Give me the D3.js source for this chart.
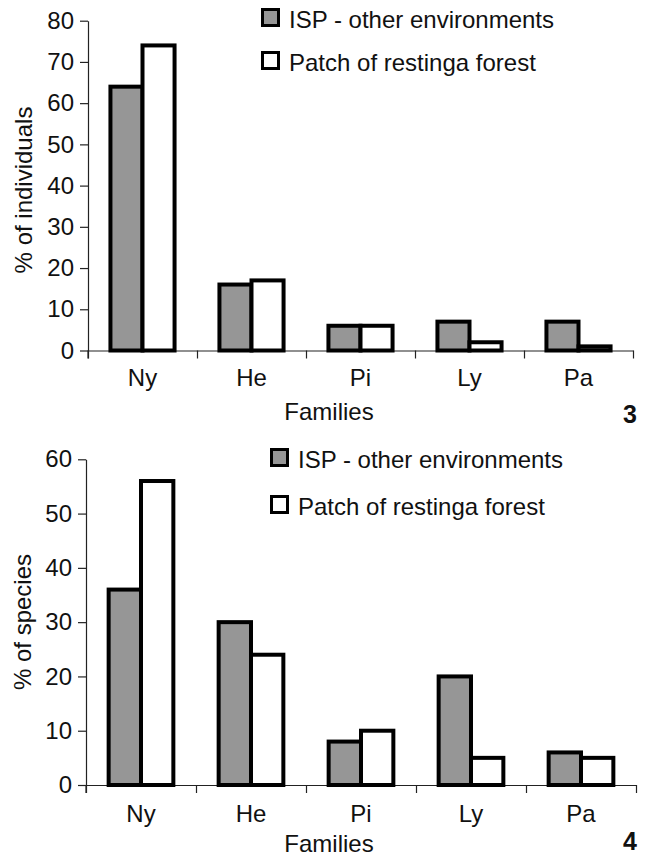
<!DOCTYPE html>
<html>
<head>
<meta charset="utf-8">
<script src="https://cdn.jsdelivr.net/npm/d3@7/dist/d3.min.js"></script>
<style>
  html, body { margin: 0; padding: 0; background: #fff; }
  svg { display: block; }
  text { font-family: "Liberation Sans", Arial, sans-serif; fill: #111; }
</style>
</head>
<body>
<svg id="chart" width="646" height="856"></svg>
<script>
// ---- data ----
const families = ["Ny", "He", "Pi", "Ly", "Pa"];
const seriesNames = ["ISP - other environments", "Patch of restinga forest"];
const individualsISP = [64, 16, 6, 7, 7];
const individualsPatch = [74, 17, 6, 2, 1];
const speciesISP = [36, 30, 8, 20, 6];
const speciesPatch = [56, 24, 10, 5, 5];
const individualsTicks = [0, 10, 20, 30, 40, 50, 60, 70, 80];
const speciesTicks = [0, 10, 20, 30, 40, 50, 60];
const xTitle = "Families";

const fills = ["#969696", "#ffffff"];
const svg = d3.select("#chart");
const FONT = 24;

function panel(cfg) {
  const g = svg.append("g");
  const x0 = d3.scaleBand().domain(families).range([cfg.left, cfg.right]).padding(0);
  const x1 = d3.scaleBand().domain([0, 1]).range([0, x0.bandwidth()]).paddingInner(0).paddingOuter(0.7);
  const y = d3.scaleLinear().domain([0, d3.max(cfg.ticks)]).range([cfg.bottom, cfg.top]);
  const xb = d3.scaleLinear().domain([0, families.length]).range([cfg.left, cfg.right]);

  // x axis: line + boundary ticks
  const xa = g.append("g").attr("transform", `translate(0,${cfg.bottom})`)
    .call(d3.axisBottom(xb).tickValues(d3.range(0, families.length + 1)).tickFormat("").tickSize(8).tickSizeOuter(0));
  xa.selectAll("path,line").attr("stroke", "#222").attr("stroke-width", 1.2);

  // category labels
  g.append("g").selectAll("text").data(families).join("text")
    .attr("x", d => x0(d) + x0.bandwidth() / 2)
    .attr("y", cfg.labelY)
    .attr("text-anchor", "middle")
    .attr("font-size", FONT)
    .text(d => d);

  // y axis
  const ya = g.append("g").attr("transform", `translate(${cfg.left},0)`)
    .call(d3.axisLeft(y).tickValues(cfg.ticks).tickSize(8).tickPadding(6).tickSizeOuter(0));
  ya.selectAll("path,line").attr("stroke", "#222").attr("stroke-width", 1.2);
  ya.selectAll("text").attr("font-size", FONT).attr("font-family", '"Liberation Sans", Arial, sans-serif').attr("fill", "#111");
  g.append("line").attr("x1", cfg.left).attr("x2", cfg.left)
    .attr("y1", cfg.bottom).attr("y2", cfg.bottom + 8).attr("stroke", "#222").attr("stroke-width", 1.2);

  // bars
  const data = families.map((f, i) => ({ f, vals: [cfg.a[i], cfg.b[i]] }));
  const grp = g.append("g").selectAll("g").data(data).join("g")
    .attr("transform", d => `translate(${x0(d.f)},0)`);
  grp.selectAll("rect").data(d => d.vals.map((v, k) => ({ v, k }))).join("rect")
    .attr("x", d => x1(d.k))
    .attr("width", x1.bandwidth())
    .attr("y", d => y(d.v))
    .attr("height", d => y(0) - y(d.v))
    .attr("fill", d => fills[d.k])
    .attr("stroke", "#000")
    .attr("stroke-width", 4);

  // y title
  g.append("text")
    .attr("transform", `translate(${cfg.yTitleX},${cfg.yTitleY}) rotate(-90)`)
    .attr("text-anchor", "middle")
    .attr("font-size", FONT)
    .text(cfg.yTitle);

  // x title
  g.append("text")
    .attr("x", cfg.xTitleX).attr("y", cfg.xTitleY)
    .attr("text-anchor", "middle")
    .attr("font-size", FONT)
    .text(xTitle);

  // panel number
  g.append("text")
    .attr("x", 637).attr("y", cfg.numY)
    .attr("text-anchor", "end")
    .attr("font-size", 25)
    .attr("font-weight", "bold")
    .attr("fill", "#222")
    .text(cfg.num);

  // legend
  const lg = g.append("g").selectAll("g").data(seriesNames).join("g")
    .attr("transform", (d, i) => `translate(${cfg.legX},${cfg.legY + i * cfg.legStep})`);
  lg.append("rect").attr("x", 1.5).attr("y", 1.5).attr("width", 16).attr("height", 16)
    .attr("fill", (d, i) => fills[i]).attr("stroke", "#000").attr("stroke-width", 3);
  lg.append("text").attr("x", cfg.legTextDx).attr("y", 20)
    .attr("font-size", FONT).text(d => d);
}

panel({
  left: 88, right: 633, top: 20.7, bottom: 350.5,
  ticks: individualsTicks, a: individualsISP, b: individualsPatch,
  labelY: 386, yTitle: "% of individuals", yTitleX: 32, yTitleY: 190,
  xTitleX: 329, xTitleY: 420, num: "3", numY: 423,
  legX: 261, legY: 8, legStep: 43, legTextDx: 28
});

panel({
  left: 86, right: 636, top: 459.3, bottom: 785,
  ticks: speciesTicks, a: speciesISP, b: speciesPatch,
  labelY: 822, yTitle: "% of species", yTitleX: 31, yTitleY: 622,
  xTitleX: 329, xTitleY: 852, num: "4", numY: 850,
  legX: 270, legY: 448, legStep: 47, legTextDx: 28
});
</script>
</body>
</html>
